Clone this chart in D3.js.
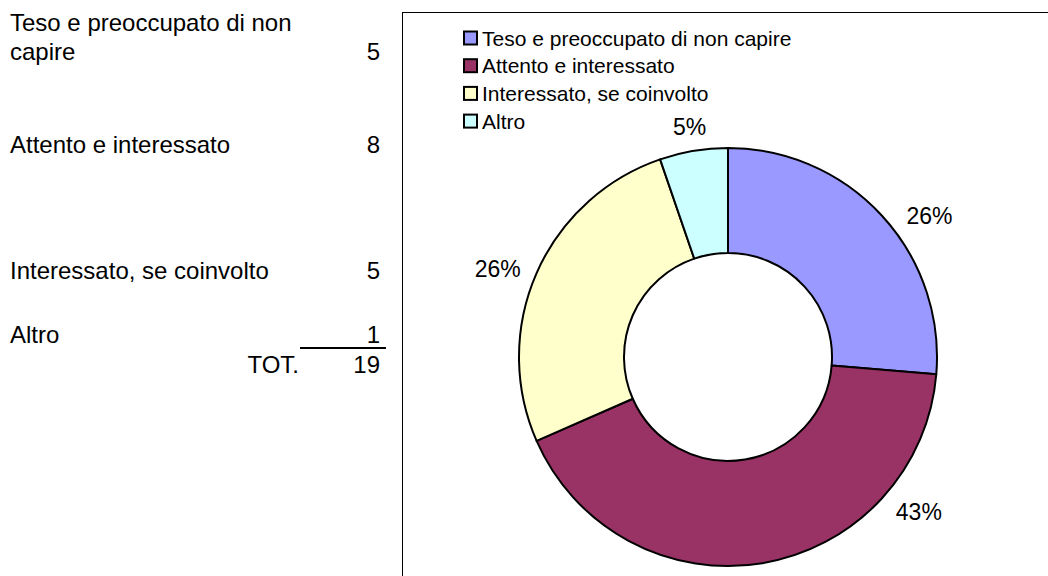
<!DOCTYPE html>
<head>
    <meta charset='utf-8'>
    <style>
        html, body {
            margin: 0;
            padding: 0;
            background: #fff;
        }
        body {
            font-family: 'Liberation Sans', Arial, sans-serif;
        }
        svg text {
            fill: #000;
        }
    </style>
</head>

<body>
<div id='vis'></div>
<script src='https://cdn.jsdelivr.net/npm/d3@7/dist/d3.min.js'></script>
<script>
  // dati
  const categories = [
    'Teso e preoccupato di non capire',
    'Attento e interessato',
    'Interessato, se coinvolto',
    'Altro'
  ]
  const counts = [5, 8, 5, 1]
  const pctLabels = ['26%', '43%', '26%', '5%']
  const colors = ['#9999ff', '#993366', '#ffffcc', '#ccffff']
  const totLabel = 'TOT.'

  const W = 1048, H = 576

  const svg = d3.select('#vis')
    .append('svg')
    .attr('width', W)
    .attr('height', H)

  // ---- tabella a sinistra ----
  const table = svg.append('g').attr('class', 'table')
  const rowY = [51, 144, 270, 334]   // centro dell'ultima riga di ogni cella
  const labelX = 10, valueX = 380, tableFont = 24

  // a capo se la cella e' troppo stretta
  function wrap(str, maxW) {
    const tmp = table.append('text').style('font-size', tableFont + 'px')
    const words = str.split(' ')
    const lines = []
    let line = []
    words.forEach(w => {
      tmp.text(line.concat(w).join(' '))
      if (tmp.node().getComputedTextLength() > maxW && line.length) {
        lines.push(line.join(' '))
        line = [w]
      } else line.push(w)
    })
    lines.push(line.join(' '))
    tmp.remove()
    return lines
  }

  const lineH = 29
  categories.forEach((c, i) => {
    const lines = wrap(c, 300)
    lines.forEach((l, j) => {
      table.append('text')
        .attr('x', labelX)
        .attr('y', rowY[i] - (lines.length - 1 - j) * lineH)
        .attr('dominant-baseline', 'central')
        .style('font-size', tableFont + 'px')
        .text(l)
    })
    table.append('text')
      .attr('x', valueX)
      .attr('y', rowY[i])
      .attr('text-anchor', 'end')
      .attr('dominant-baseline', 'central')
      .style('font-size', tableFont + 'px')
      .text(counts[i])
  })

  const total = d3.sum(counts)
  table.append('line')
    .attr('x1', 300).attr('x2', 386)
    .attr('y1', 348).attr('y2', 348)
    .attr('stroke', '#000')
    .attr('stroke-width', 2)
  table.append('text')
    .attr('x', 299).attr('y', 364)
    .attr('text-anchor', 'end')
    .attr('dominant-baseline', 'central')
    .style('font-size', tableFont + 'px')
    .text(totLabel)
  table.append('text')
    .attr('x', valueX).attr('y', 364)
    .attr('text-anchor', 'end')
    .attr('dominant-baseline', 'central')
    .style('font-size', tableFont + 'px')
    .text(total)

  // ---- area grafico ----
  svg.append('rect')
    .attr('x', 402.5).attr('y', 12.5)
    .attr('width', 800).attr('height', 700)
    .attr('fill', '#fff')
    .attr('stroke', '#000')
    .attr('stroke-width', 1)

  // legenda
  const legend = svg.append('g')
    .attr('transform', 'translate(463, 38)')
  const legFont = 21, legStep = 27.7
  categories.forEach((c, i) => {
    const g = legend.append('g').attr('transform', `translate(0, ${i * legStep})`)
    g.append('rect')
      .attr('x', 1).attr('y', -6.5)
      .attr('width', 13).attr('height', 13)
      .attr('fill', colors[i])
      .attr('stroke', '#000')
      .attr('stroke-width', 2)
    g.append('text')
      .attr('x', 19).attr('y', 0)
      .attr('dominant-baseline', 'central')
      .style('font-size', legFont + 'px')
      .text(c)
  })

  // ciambella
  const cx = 728, cy = 357, rOut = 209, rIn = 104
  const pie = d3.pie().sort(null).value(d => d)
  const arcs = pie(counts)
  const arc = d3.arc().innerRadius(rIn).outerRadius(rOut)

  const donut = svg.append('g').attr('transform', `translate(${cx}, ${cy})`)
  donut.selectAll('path')
    .data(arcs)
    .enter()
    .append('path')
    .attr('d', arc)
    .attr('fill', (d, i) => colors[i])
    .attr('stroke', '#000')
    .attr('stroke-width', 2)
    .attr('stroke-linejoin', 'round')

  // etichette: angolo medio della fetta, spostate dove Excel le ha messe
  const labelAngleFix = {0: 55, 1: 129, 2: 291}
  const labFont = 23
  arcs.forEach((d, i) => {
    let a = (d.startAngle + d.endAngle) / 2
    if (labelAngleFix[i] !== undefined) a = labelAngleFix[i] * Math.PI / 180
    const s = Math.sin(a), c = -Math.cos(a)
    const t = donut.append('text')
      .attr('text-anchor', 'middle')
      .attr('dominant-baseline', 'central')
      .style('font-size', labFont + 'px')
      .text(pctLabels[i])
    const bb = t.node().getBBox()
    const r = rOut + 13 + Math.abs(s) * bb.width / 2 + Math.abs(c) * 9
    t.attr('x', r * s).attr('y', r * c)
  })
</script>
</body>
